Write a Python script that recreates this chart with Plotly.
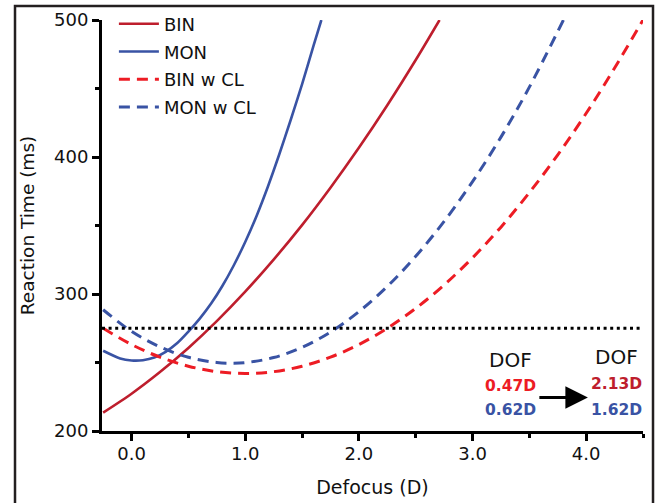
import plotly.graph_objects as go

# ---- data ----
bin_x = [-0.25, 0.0, 0.25, 0.5, 0.75, 1.0, 1.25, 1.5, 1.75, 2.0, 2.25, 2.5, 2.71]
bin_y = [213.4, 227.2, 243.0, 260.6, 280.2, 301.7, 325.1, 350.3, 377.6, 406.7, 437.8, 470.8, 500.0]

mon_x = [-0.25, -0.1, 0.0, 0.1, 0.2, 0.3, 0.4, 0.5, 0.6, 0.7, 0.8, 0.9, 1.0, 1.1, 1.2, 1.3, 1.4, 1.5, 1.6, 1.67]
mon_y = [258.6, 253.0, 251.5, 251.7, 253.6, 257.8, 264.0, 272.5, 282.0, 293.0, 306.0, 321.0, 338.0, 357.0, 378.5, 402.0, 427.0, 453.0, 481.0, 500.0]

bincl_x = [-0.25, 0.0, 0.25, 0.5, 0.75, 1.0, 1.25, 1.5, 1.75, 2.0, 2.25, 2.5, 2.75, 3.0, 3.25, 3.5, 3.75, 4.0, 4.25, 4.5]
bincl_y = [275.0, 263.1, 253.9, 247.3, 243.3, 242.0, 243.3, 247.3, 253.9, 263.1, 275.0, 289.5, 306.6, 326.4, 348.8, 374.0, 401.6, 431.9, 464.9, 500.0]

moncl_x = [-0.25, 0.0, 0.25, 0.5, 0.75, 0.88, 1.0, 1.25, 1.5, 1.75, 2.0, 2.25, 2.5, 2.75, 3.0, 3.25, 3.5, 3.8]
moncl_y = [288.5, 272.7, 261.4, 253.8, 250.0, 249.5, 249.9, 253.6, 261.0, 272.2, 287.1, 305.5, 327.5, 353.0, 382.0, 414.5, 451.0, 500.0]

threshold = 275
x_range = [-0.26, 4.5]
y_range = [200, 500]
x_ticks = [0, 1, 2, 3, 4]
y_ticks = [200, 300, 400, 500]

dof_before = ["0.47D", "0.62D"]
dof_after = ["2.13D", "1.62D"]

# ---- styles ----
FONT = "DejaVu Sans, Verdana, sans-serif"
C_BIN = "#be1e2d"
C_MON = "#3953a4"
C_BINCL = "#ed1c24"
C_MONCL = "#3953a4"

fig = go.Figure()
fig.add_trace(go.Scatter(x=bin_x, y=bin_y, mode="lines", name="BIN", legendgroup="g1",
                         line=dict(color=C_BIN, width=2.6, shape="spline", smoothing=0.8)))
fig.add_trace(go.Scatter(x=mon_x, y=mon_y, mode="lines", name="MON", legendgroup="g2",
                         line=dict(color=C_MON, width=2.6, shape="spline", smoothing=0.8)))
fig.add_trace(go.Scatter(x=bincl_x, y=bincl_y, mode="lines", name="BIN w CL", legendgroup="g3",
                         line=dict(color=C_BINCL, width=3, shape="spline", dash="11px,7px")))
fig.add_trace(go.Scatter(x=moncl_x, y=moncl_y, mode="lines", name="MON w CL", legendgroup="g4",
                         line=dict(color=C_MONCL, width=3, shape="spline", dash="11px,7px")))
fig.add_trace(go.Scatter(x=x_range, y=[threshold, threshold], mode="lines", showlegend=False,
                         line=dict(color="black", width=3, dash="3px,3.6px")))

axis_common = dict(showline=True, linecolor="black", linewidth=3, ticks="outside",
                   ticklen=7, tickwidth=2.5, tickcolor="black", showgrid=False, zeroline=False,
                   tickfont=dict(family=FONT, size=18, color="#111"), mirror=False)

fig.update_xaxes(range=x_range, tickvals=x_ticks, ticktext=[f"{v:.1f}" for v in x_ticks],
                 ticklabelstandoff=-3,
                 minor=dict(ticks="outside", ticklen=4, tickwidth=2.5, tickcolor="black", dtick=0.5, tick0=0),
                 title=dict(text="Defocus (D)", font=dict(family=FONT, size=19, color="#111"), standoff=19),
                 **axis_common)
fig.update_yaxes(range=y_range, tickvals=y_ticks,
                 minor=dict(ticks="outside", ticklen=4, tickwidth=2.5, tickcolor="black", dtick=50, tick0=200),
                 title=dict(text="Reaction Time (ms)", font=dict(family=FONT, size=18.5, color="#111"), standoff=15),
                 **axis_common)

ann = []
for xv, yv, txt in [(3.33, 252, "DOF"), (4.27, 254, "DOF")]:
    ann.append(dict(x=xv, y=yv, text=txt, showarrow=False, font=dict(family=FONT, size=20, color="#111")))
ann.append(dict(x=3.33, y=233, text=f"<b>{dof_before[0]}</b>", showarrow=False, font=dict(family=FONT, size=15.5, color=C_BINCL)))
ann.append(dict(x=3.33, y=215, text=f"<b>{dof_before[1]}</b>", showarrow=False, font=dict(family=FONT, size=15.5, color=C_MON)))
ann.append(dict(x=4.27, y=234, text=f"<b>{dof_after[0]}</b>", showarrow=False, font=dict(family=FONT, size=15.5, color=C_BIN)))
ann.append(dict(x=4.27, y=215, text=f"<b>{dof_after[1]}</b>", showarrow=False, font=dict(family=FONT, size=15.5, color=C_MON)))
ann.append(dict(x=4.015, y=224.5, ax=-50, ay=0, text="", showarrow=True, arrowhead=2, arrowsize=1.5,
                arrowwidth=3, arrowcolor="black", standoff=0))

fig.update_layout(
    width=655, height=503,
    margin=dict(l=102, r=12, t=20, b=72, autoexpand=False),
    paper_bgcolor="white", plot_bgcolor="white",
    font=dict(family=FONT, color="#111"),
    showlegend=True,
    legend=dict(x=0.022, y=1.035, xanchor="left", yanchor="top", bgcolor="rgba(0,0,0,0)",
                font=dict(family=FONT, size=18, color="#111"), itemwidth=40, tracegroupgap=1.3),
    annotations=ann,
    shapes=[dict(type="rect", xref="paper", yref="paper", x0=-0.1608, x1=1.0185, y0=-0.2, y1=1.034,
                 line=dict(color="#231f20", width=2.5), fillcolor="rgba(0,0,0,0)", layer="above")],
)

fig.write_html("out.html", config={"displayModeBar": False},
               post_script="document.body.style.margin='0';")
